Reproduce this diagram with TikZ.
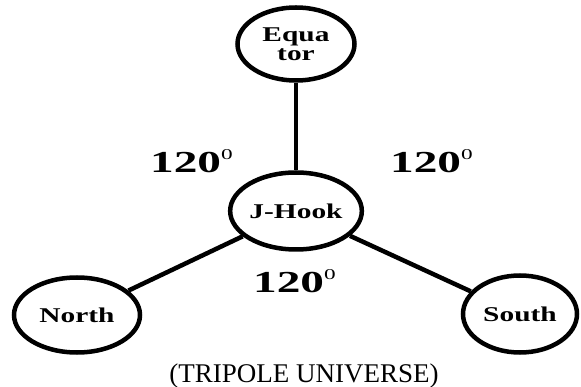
\documentclass[tikz,border=0pt]{standalone}
\usepackage{fontspec}
\setmainfont{Liberation Serif}
\newfontfamily\polefont[FakeStretch=1.4]{Liberation Serif}
\newfontfamily\anglefont[FakeStretch=1.55]{Liberation Serif}
\usetikzlibrary{shapes.geometric}
\newcommand{\supzero}{\raisebox{13pt}{\mdseries\fontsize{15}{15}\selectfont 0}}

\begin{document}
\begin{tikzpicture}[x=1pt, y=-1pt,
    pole/.style={ellipse, draw, line width=4.5pt, inner sep=0pt, align=center,
                 font=\polefont\fontsize{21}{19}\selectfont\bfseries},
    anglelabel/.style={anchor=base west, inner sep=0pt,
                 font=\anglefont\fontsize{30.5}{30}\selectfont\bfseries},
    link/.style={line width=4.5pt}]
  \useasboundingbox (0,0) rectangle (581,387);
  % the four poles
  \node[pole, minimum width=117pt, minimum height=73pt] (equator) at (296,44) {Equa\\tor};
  \node[pole, minimum width=129pt, minimum height=77pt] (jhook) at (296,211) {J-Hook};
  \node[pole, minimum width=126pt, minimum height=75pt] (north) at (77,315) {North};
  \node[pole, minimum width=114pt, minimum height=77pt] (south) at (520,314) {South};
  % links
  \draw[link] (equator) -- (jhook);
  \draw[link] (jhook) -- (north);
  \draw[link] (jhook) -- (south);
  % angles
  \node[anglelabel] (angleft) at (150,173) {120\supzero};
  \node[anglelabel] (angright) at (390,173) {120\supzero};
  \node[anglelabel] (angbottom) at (253,293) {120\supzero};
  \node[anchor=base, inner sep=0pt, font=\fontsize{27}{27}\selectfont] (caption) at (304,382) {(TRIPOLE UNIVERSE)};
\end{tikzpicture}
\end{document}
